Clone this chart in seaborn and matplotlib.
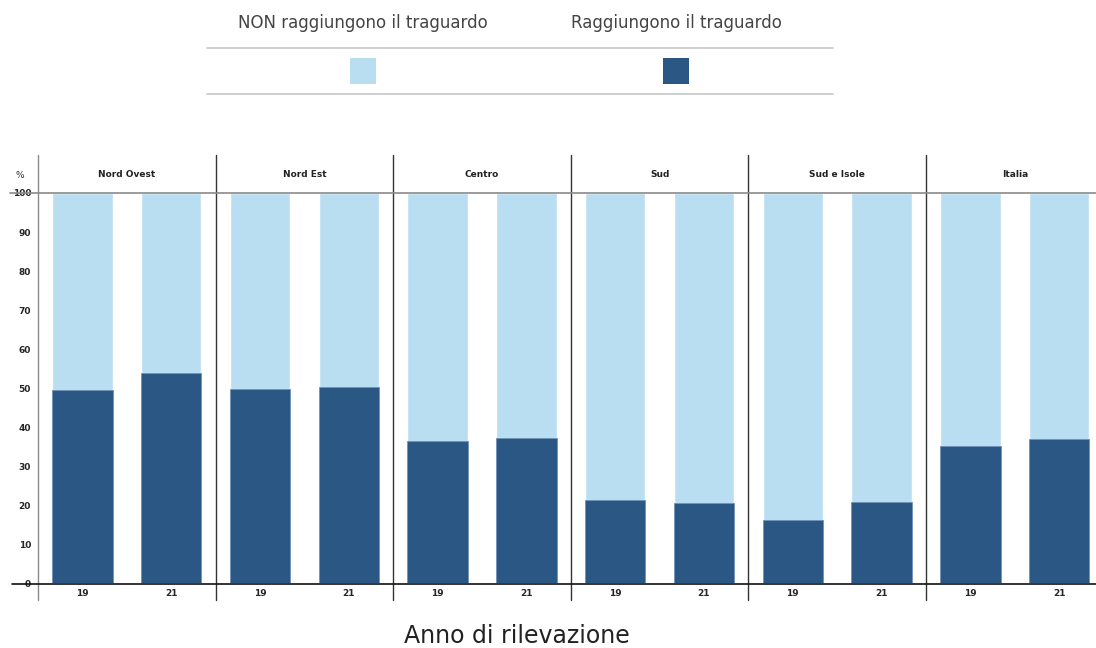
import numpy as np
import pandas as pd
import matplotlib.pyplot as plt
import matplotlib.lines as mlines
import matplotlib.patches as mpatches
import seaborn as sns

# data (% students reaching the goal)
regions = ['Nord Ovest', 'Nord Est', 'Centro', 'Sud', 'Sud e Isole', 'Italia']
years = ['19', '21']
reach_19 = [49.6, 49.9, 36.4, 21.4, 16.1, 35.1]
reach_21 = [53.9, 50.2, 37.1, 20.7, 20.8, 37.0]
yticks = list(range(0, 101, 10))

LIGHT = '#badef1'
DARK = '#2b5784'
W, H = 1096, 648

rows = []
for r, a, b in zip(regions, reach_19, reach_21):
    rows.append({'region': r, 'anno': years[0], 'reach': a})
    rows.append({'region': r, 'anno': years[1], 'reach': b})
df = pd.DataFrame(rows)
df['total'] = 100.0

sns.set_style('white')
plt.rcParams['font.family'] = ['DejaVu Sans']

fig = plt.figure(figsize=(W / 100, H / 100), dpi=100)


def fx(px):
    return px / W


def fy(py):
    return 1 - py / H


x0, pw = 38, 177.6
top, base = 193, 583.3
axes = []
for i, reg in enumerate(regions):
    left = x0 + i * pw
    ax = fig.add_axes([fx(left), fy(base), fx(pw), (base - top) / H])
    sub = df[df['region'] == reg]
    sns.barplot(data=sub, x='anno', y='total', color=LIGHT, saturation=1,
                width=0.68, ax=ax, errorbar=None)
    sns.barplot(data=sub, x='anno', y='reach', color=DARK, saturation=1,
                width=0.68, ax=ax, errorbar=None, edgecolor='#6f93b8', linewidth=0.6)
    ax.set_ylim(0, 100)
    ax.set_xlim(-0.5, 1.5)
    ax.set_xlabel('')
    ax.set_ylabel('')
    for s in ax.spines.values():
        s.set_visible(False)
    ax.tick_params(axis='x', length=0, pad=4, labelsize=6.5)
    for t in ax.get_xticklabels():
        t.set_fontweight('semibold')
    if i == 0:
        ax.set_yticks(yticks)
        ax.tick_params(axis='y', length=0, pad=5, labelsize=6.5)
        for t in ax.get_yticklabels():
            t.set_fontweight('semibold')
    else:
        ax.set_yticks([])
    # panel title
    fig.text(fx(left + pw / 2), fy(174), reg, ha='center', va='center',
             fontsize=6.5, fontweight='semibold', color='#222222')
    axes.append(ax)

# separators and frame lines
for i in range(len(regions)):
    xp = x0 + i * pw
    col = '#8a8a8a' if i == 0 else '#333333'
    fig.add_artist(mlines.Line2D([fx(xp), fx(xp)], [fy(155), fy(600)],
                                 color=col, lw=1))
fig.add_artist(mlines.Line2D([fx(10), 1], [fy(193), fy(193)], color='#8a8a8a', lw=1.2))
fig.add_artist(mlines.Line2D([fx(12), 1], [fy(583.5), fy(583.5)], color='#111111', lw=1.2))
fig.text(fx(20), fy(175), '%', ha='center', va='center', fontsize=6.5, color='#333333')

# legend at top
fig.add_artist(mlines.Line2D([fx(207), fx(833)], [fy(48), fy(48)], color='#cccccc', lw=1.3))
fig.add_artist(mlines.Line2D([fx(207), fx(833)], [fy(94), fy(94)], color='#cccccc', lw=1.3))
for cx, lab, c in [(363, 'NON raggiungono il traguardo', LIGHT),
                   (676, 'Raggiungono il traguardo', DARK)]:
    fig.text(fx(cx), fy(23), lab, ha='center', va='center', fontsize=12, color='#444444')
    fig.add_artist(mpatches.Rectangle((fx(cx - 13), fy(84)), fx(26), 26 / H,
                                      facecolor=c, edgecolor='none'))

fig.text(fx(517), fy(636), 'Anno di rilevazione', ha='center', va='center',
         fontsize=17, color='#222222')

fig.savefig('out.png', dpi=100)
